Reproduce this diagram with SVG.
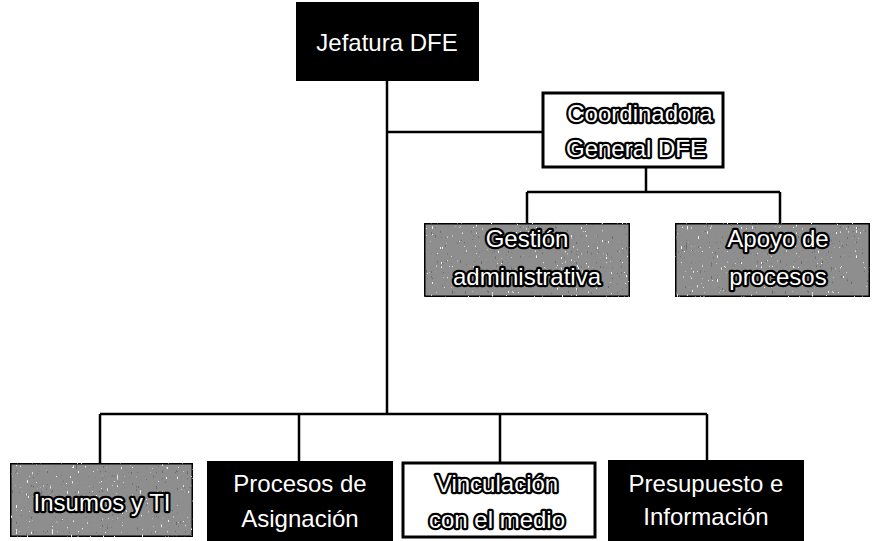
<svg xmlns="http://www.w3.org/2000/svg" width="873" height="541" viewBox="0 0 873 541">
<style>
.lnk{stroke:#000;stroke-width:2.5;fill:none}
.dark{fill:#000;stroke:#000;stroke-width:2}
.light{fill:#fff;stroke:#000;stroke-width:3}
.grey{fill:#8e8e8e;stroke:#000;stroke-width:3}
text{font-family:"Liberation Sans",Arial,sans-serif;font-size:24px;text-anchor:middle}
.tw{fill:#fff}
.to{fill:#fff;stroke:#000;stroke-width:4.5;paint-order:stroke;stroke-linejoin:round}
</style>
<defs>
<filter id="grain" x="0" y="0" width="100%" height="100%">
<feTurbulence type="fractalNoise" baseFrequency="0.8 0.2" numOctaves="2" seed="4" result="n"/>
<feColorMatrix in="n" type="matrix" values="0 0 0 0 0.15  0 0 0 0 0.15  0 0 0 0 0.15  -20 0 0 0 5.6" result="dk"/>
<feComposite in="dk" in2="SourceAlpha" operator="in" result="dkc"/>
<feColorMatrix in="n" type="matrix" values="0 0 0 0 0.85  0 0 0 0 0.85  0 0 0 0 0.85  20 0 0 0 -14.6" result="lt"/>
<feComposite in="lt" in2="SourceAlpha" operator="in" result="ltc"/>
<feMerge><feMergeNode in="SourceGraphic"/><feMergeNode in="dkc"/><feMergeNode in="ltc"/></feMerge>
</filter>
</defs>
<rect width="873" height="541" fill="#fff"/>
<g id="connectors">
<path class="lnk" d="M387 80V414"/>
<path class="lnk" d="M387 132H543"/>
<path class="lnk" d="M646 167V192M527 192H780M527 192V223M780 192V223"/>
<path class="lnk" d="M100 414H707M100 414V463M299 414V462M500 414V463M707 414V461"/>
</g>
<g id="jefatura">
<rect class="dark" x="297" y="3" width="181" height="77"/>
<text class="tw" x="387" y="51">Jefatura DFE</text>
</g>
<g id="coordinadora">
<rect class="light" x="543" y="93" width="180" height="74"/>
<text class="to" x="640" y="122">Coordinadora</text>
<text class="to" x="636" y="157">General DFE</text>
</g>
<g id="gestion">
<rect class="grey" x="424" y="223" width="206" height="74" filter="url(#grain)"/>
<text class="to" x="527" y="247">Gestión</text>
<text class="to" x="527" y="285">administrativa</text>
</g>
<g id="apoyo">
<rect class="grey" x="675" y="223" width="195" height="74" filter="url(#grain)"/>
<text class="to" x="778" y="247">Apoyo de</text>
<text class="to" x="778" y="285">procesos</text>
</g>
<g id="insumos">
<rect class="grey" x="10" y="463" width="183" height="74" filter="url(#grain)"/>
<text class="to" x="102" y="511">Insumos y TI</text>
</g>
<g id="procesos">
<rect class="dark" x="208" y="462" width="184" height="80"/>
<text class="tw" x="300" y="492">Procesos de</text>
<text class="tw" x="300" y="527">Asignación</text>
</g>
<g id="vinculacion">
<rect class="light" x="403" y="463" width="192" height="74"/>
<text class="to" x="497" y="492">Vinculación</text>
<text class="to" x="497" y="528">con el medio</text>
</g>
<g id="presupuesto">
<rect class="dark" x="609" y="461" width="194" height="81"/>
<text class="tw" x="706" y="492">Presupuesto e</text>
<text class="tw" x="706" y="525">Información</text>
</g>
</svg>
